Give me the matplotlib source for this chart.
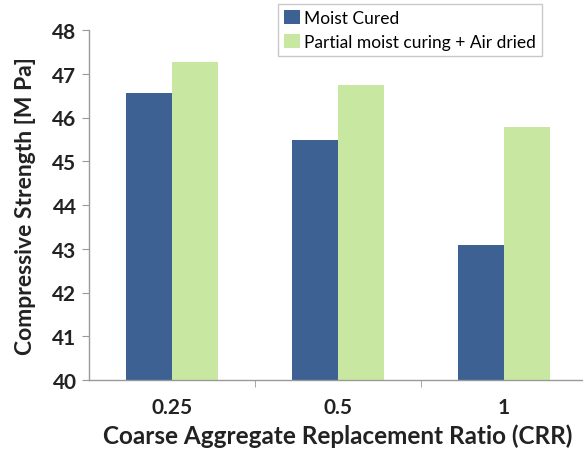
import numpy as np
import matplotlib.pyplot as plt

plt.rcParams['font.family'] = ['Lato', 'DejaVu Sans']

# data
categories = ['0.25', '0.5', '1']
moist_cured = [46.57, 45.48, 43.08]
partial_air = [47.27, 46.75, 45.78]
series_names = ['Moist Cured', 'Partial moist curing + Air dried']

blue = '#3D6192'
green = '#C8E8A2'

fig = plt.figure(figsize=(5.83, 4.52), dpi=100)
ax = fig.add_axes([89 / 583, 71 / 452, 498 / 583, 350 / 452])

x = np.arange(len(categories))
w = 0.277
ax.bar(x - w / 2, moist_cured, w, color=blue, label=series_names[0])
ax.bar(x + w / 2, partial_air, w, color=green, label=series_names[1])

ax.set_xlim(-0.5, 2.5)
ax.set_ylim(40, 48)
ax.set_yticks(range(40, 49))
ax.set_yticklabels([str(v) for v in range(40, 49)], fontsize=15, fontweight='bold', color='#222222')

ax.set_xticks(x)
ax.set_xticklabels(categories, fontsize=15, fontweight='bold', color='#222222')
ax.tick_params(axis='x', length=0, pad=12)
ax.set_xticks([0.5, 1.5], minor=True)
ax.tick_params(axis='x', which='minor', length=5, color='#999999', direction='out')
ax.tick_params(axis='y', length=5, color='#999999', direction='out', pad=4)

for s in ['top', 'right']:
    ax.spines[s].set_visible(False)
for s in ['left', 'bottom']:
    ax.spines[s].set_color('#999999')
    ax.spines[s].set_linewidth(1.0)

ax.set_xlabel('Coarse Aggregate Replacement Ratio (CRR)', fontsize=17.5, fontweight='bold',
              color='#222222', labelpad=5)
ax.set_ylabel('Compressive Strength [M Pa]', fontsize=16.5, fontweight='bold',
              color='#222222', labelpad=12)

leg = ax.legend(loc='upper left', bbox_to_anchor=(278 / 583, 1 - 5 / 452),
                bbox_transform=fig.transFigure, fontsize=12.5, frameon=True,
                fancybox=False, handlelength=0.9, handleheight=0.9, handletextpad=0.25,
                borderpad=0.35, labelspacing=0.45, borderaxespad=0)
leg.get_frame().set_edgecolor('#BBBBBB')
leg.get_frame().set_linewidth(1.0)

fig.savefig('out.png', dpi=100)
